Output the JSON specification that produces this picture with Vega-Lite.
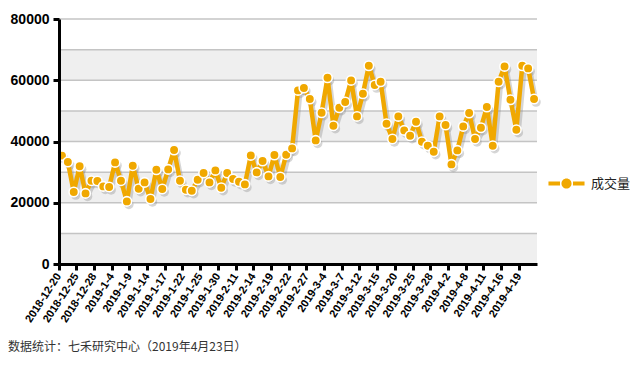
{
  "$schema": "https://vega.github.io/schema/vega-lite/v6.json",
  "width": 478,
  "height": 245,
  "autosize": {"type": "none"},
  "padding": {"left": 59, "top": 19, "right": 96, "bottom": 101},
  "background": "white",
  "title": {
    "text": "数据统计：七禾研究中心（2019年4月23日）",
    "orient": "bottom",
    "anchor": "start",
    "frame": "group",
    "dx": -51,
    "offset": 18,
    "font": "Noto Sans CJK SC",
    "fontSize": 12,
    "fontWeight": "normal",
    "color": "#333333"
  },
  "datasets": {
    "bands": [
      {"lo": 0, "hi": 10000},
      {"lo": 20000, "hi": 30000},
      {"lo": 40000, "hi": 50000},
      {"lo": 60000, "hi": 70000}
    ],
    "grid": [
      {"v": 10000}, {"v": 20000}, {"v": 30000}, {"v": 40000},
      {"v": 50000}, {"v": 60000}, {"v": 70000}, {"v": 80000}
    ],
    "vol": [
      {"date": "2018-12-20", "value": 35400, "series": "成交量"},
      {"date": "2018-12-21", "value": 33300, "series": "成交量"},
      {"date": "2018-12-24", "value": 23500, "series": "成交量"},
      {"date": "2018-12-25", "value": 31900, "series": "成交量"},
      {"date": "2018-12-26", "value": 23050, "series": "成交量"},
      {"date": "2018-12-27", "value": 27200, "series": "成交量"},
      {"date": "2018-12-28", "value": 27100, "series": "成交量"},
      {"date": "2019-1-2", "value": 25340, "series": "成交量"},
      {"date": "2019-1-3", "value": 25140, "series": "成交量"},
      {"date": "2019-1-4", "value": 33170, "series": "成交量"},
      {"date": "2019-1-7", "value": 27200, "series": "成交量"},
      {"date": "2019-1-8", "value": 20440, "series": "成交量"},
      {"date": "2019-1-9", "value": 32100, "series": "成交量"},
      {"date": "2019-1-10", "value": 24590, "series": "成交量"},
      {"date": "2019-1-11", "value": 26640, "series": "成交量"},
      {"date": "2019-1-14", "value": 21220, "series": "成交量"},
      {"date": "2019-1-15", "value": 30790, "series": "成交量"},
      {"date": "2019-1-16", "value": 24490, "series": "成交量"},
      {"date": "2019-1-17", "value": 30890, "series": "成交量"},
      {"date": "2019-1-18", "value": 37220, "series": "成交量"},
      {"date": "2019-1-21", "value": 27200, "series": "成交量"},
      {"date": "2019-1-22", "value": 24260, "series": "成交量"},
      {"date": "2019-1-23", "value": 23930, "series": "成交量"},
      {"date": "2019-1-24", "value": 27520, "series": "成交量"},
      {"date": "2019-1-25", "value": 29710, "series": "成交量"},
      {"date": "2019-1-28", "value": 26640, "series": "成交量"},
      {"date": "2019-1-29", "value": 30560, "series": "成交量"},
      {"date": "2019-1-30", "value": 24910, "series": "成交量"},
      {"date": "2019-1-31", "value": 29710, "series": "成交量"},
      {"date": "2019-2-1", "value": 27750, "series": "成交量"},
      {"date": "2019-2-11", "value": 26870, "series": "成交量"},
      {"date": "2019-2-12", "value": 25990, "series": "成交量"},
      {"date": "2019-2-13", "value": 35460, "series": "成交量"},
      {"date": "2019-2-14", "value": 29910, "series": "成交量"},
      {"date": "2019-2-15", "value": 33630, "series": "成交量"},
      {"date": "2019-2-18", "value": 28600, "series": "成交量"},
      {"date": "2019-2-19", "value": 35590, "series": "成交量"},
      {"date": "2019-2-20", "value": 28410, "series": "成交量"},
      {"date": "2019-2-21", "value": 35690, "series": "成交量"},
      {"date": "2019-2-22", "value": 37740, "series": "成交量"},
      {"date": "2019-2-25", "value": 56680, "series": "成交量"},
      {"date": "2019-2-26", "value": 57460, "series": "成交量"},
      {"date": "2019-2-27", "value": 53870, "series": "成交量"},
      {"date": "2019-2-28", "value": 40360, "series": "成交量"},
      {"date": "2019-3-1", "value": 49400, "series": "成交量"},
      {"date": "2019-3-4", "value": 60830, "series": "成交量"},
      {"date": "2019-3-5", "value": 45150, "series": "成交量"},
      {"date": "2019-3-6", "value": 51030, "series": "成交量"},
      {"date": "2019-3-7", "value": 52890, "series": "成交量"},
      {"date": "2019-3-8", "value": 59950, "series": "成交量"},
      {"date": "2019-3-11", "value": 48190, "series": "成交量"},
      {"date": "2019-3-12", "value": 55600, "series": "成交量"},
      {"date": "2019-3-13", "value": 64740, "series": "成交量"},
      {"date": "2019-3-14", "value": 58440, "series": "成交量"},
      {"date": "2019-3-15", "value": 59520, "series": "成交量"},
      {"date": "2019-3-18", "value": 45810, "series": "成交量"},
      {"date": "2019-3-19", "value": 40810, "series": "成交量"},
      {"date": "2019-3-20", "value": 48190, "series": "成交量"},
      {"date": "2019-3-21", "value": 43620, "series": "成交量"},
      {"date": "2019-3-22", "value": 41890, "series": "成交量"},
      {"date": "2019-3-25", "value": 46460, "series": "成交量"},
      {"date": "2019-3-26", "value": 39930, "series": "成交量"},
      {"date": "2019-3-27", "value": 38620, "series": "成交量"},
      {"date": "2019-3-28", "value": 36660, "series": "成交量"},
      {"date": "2019-3-29", "value": 48190, "series": "成交量"},
      {"date": "2019-4-1", "value": 45400, "series": "成交量"},
      {"date": "2019-4-2", "value": 32520, "series": "成交量"},
      {"date": "2019-4-3", "value": 37090, "series": "成交量"},
      {"date": "2019-4-4", "value": 44930, "series": "成交量"},
      {"date": "2019-4-8", "value": 49300, "series": "成交量"},
      {"date": "2019-4-9", "value": 40810, "series": "成交量"},
      {"date": "2019-4-10", "value": 44500, "series": "成交量"},
      {"date": "2019-4-11", "value": 51260, "series": "成交量"},
      {"date": "2019-4-12", "value": 38620, "series": "成交量"},
      {"date": "2019-4-15", "value": 59520, "series": "成交量"},
      {"date": "2019-4-16", "value": 64520, "series": "成交量"},
      {"date": "2019-4-17", "value": 53640, "series": "成交量"},
      {"date": "2019-4-18", "value": 43850, "series": "成交量"},
      {"date": "2019-4-19", "value": 64740, "series": "成交量"},
      {"date": "2019-4-22", "value": 63860, "series": "成交量"},
      {"date": "2019-4-23", "value": 53870, "series": "成交量"}
    ]
  },
  "layer": [
    {
      "data": {"name": "bands"},
      "mark": {"type": "rect", "fill": "#EFEFEF"},
      "encoding": {
        "y": {
          "field": "lo",
          "type": "quantitative",
          "scale": {"domain": [0, 80000]},
          "title": null,
          "axis": {
            "values": [0, 20000, 40000, 60000, 80000],
            "format": "d",
            "grid": false,
            "labelFont": "Liberation Sans",
            "labelFontSize": 14,
            "labelFontWeight": "bold",
            "labelColor": "#000000",
            "labelPadding": 4,
            "domainColor": "#000000",
            "domainWidth": 3,
            "tickColor": "#000000",
            "tickWidth": 3,
            "tickSize": 6,
            "zindex": 1
          }
        },
        "y2": {"field": "hi"}
      }
    },
    {
      "data": {"name": "grid"},
      "mark": {"type": "rule", "stroke": "#C4C4C4", "strokeWidth": 1.5},
      "encoding": {
        "y": {"field": "v", "type": "quantitative", "scale": {"domain": [0, 80000]}, "title": null}
      }
    },
    {
      "data": {"name": "vol"},
      "mark": {"type": "line", "stroke": "#8a8a8a", "strokeWidth": 5, "strokeJoin": "round", "opacity": 0.35, "xOffset": 2, "yOffset": 3},
      "encoding": {
        "x": {
          "field": "date",
          "type": "ordinal",
          "sort": null,
          "scale": {"type": "band", "paddingInner": 0, "paddingOuter": 0},
          "title": null,
          "axis": {
            "values": ["2018-12-20","2018-12-25","2018-12-28","2019-1-4","2019-1-9","2019-1-14","2019-1-17","2019-1-22","2019-1-25","2019-1-30","2019-2-11","2019-2-14","2019-2-19","2019-2-22","2019-2-27","2019-3-4","2019-3-7","2019-3-12","2019-3-15","2019-3-20","2019-3-25","2019-3-28","2019-4-2","2019-4-8","2019-4-11","2019-4-16","2019-4-19"],
            "bandPosition": 0,
            "labelOffset": -3,
            "labelAngle": -57,
            "labelAlign": "right",
            "labelBaseline": "middle",
            "labelPadding": 4,
            "labelFont": "Liberation Sans",
            "labelFontSize": 11,
            "labelFontWeight": "bold",
            "labelColor": "#000000",
            "labelOverlap": false,
            "grid": false,
            "domainColor": "#000000",
            "domainWidth": 3,
            "tickColor": "#000000",
            "tickWidth": 3,
            "tickSize": 6,
            "zindex": 1
          }
        },
        "y": {"field": "value", "type": "quantitative", "scale": {"domain": [0, 80000]}, "title": null}
      }
    },
    {
      "data": {"name": "vol"},
      "mark": {"type": "circle", "fill": "#8a8a8a", "size": 90, "opacity": 0.35, "xOffset": 2, "yOffset": 3},
      "encoding": {
        "x": {"field": "date", "type": "ordinal", "sort": null, "scale": {"type": "band", "paddingInner": 0, "paddingOuter": 0}, "title": null},
        "y": {"field": "value", "type": "quantitative", "scale": {"domain": [0, 80000]}, "title": null}
      }
    },
    {
      "data": {"name": "vol"},
      "mark": {"type": "line", "strokeWidth": 4.5, "strokeJoin": "round"},
      "encoding": {
        "x": {"field": "date", "type": "ordinal", "sort": null, "scale": {"type": "band", "paddingInner": 0, "paddingOuter": 0}, "title": null},
        "y": {"field": "value", "type": "quantitative", "scale": {"domain": [0, 80000]}, "title": null},
        "color": {
          "field": "series",
          "type": "nominal",
          "scale": {"range": ["#F0A800"]},
          "legend": {
            "orient": "none",
            "legendX": 489,
            "legendY": 146,
            "title": null,
            "padding": 0,
            "symbolType": "M-1,-0.11H-0.36V0.11H-1Z M0.36,-0.11H1V0.11H0.36Z M0.28,0A0.28,0.28 0 1,1 -0.28,0A0.28,0.28 0 1,1 0.28,0Z",
            "symbolSize": 1300,
            "symbolFillColor": "#F0A800",
            "symbolStrokeWidth": 0,
            "labelFont": "Noto Sans CJK SC",
            "labelFontSize": 13,
            "labelColor": "#222222",
            "labelOffset": 6
          }
        }
      }
    },
    {
      "data": {"name": "vol"},
      "mark": {"type": "circle", "fill": "#F0A800", "opacity": 1, "size": 90, "stroke": "#FFFFFF", "strokeWidth": 1.6},
      "encoding": {
        "x": {"field": "date", "type": "ordinal", "sort": null, "scale": {"type": "band", "paddingInner": 0, "paddingOuter": 0}, "title": null},
        "y": {"field": "value", "type": "quantitative", "scale": {"domain": [0, 80000]}, "title": null}
      }
    }
  ],
  "config": {
    "view": {"stroke": null},
    "font": "Liberation Sans"
  }
}
